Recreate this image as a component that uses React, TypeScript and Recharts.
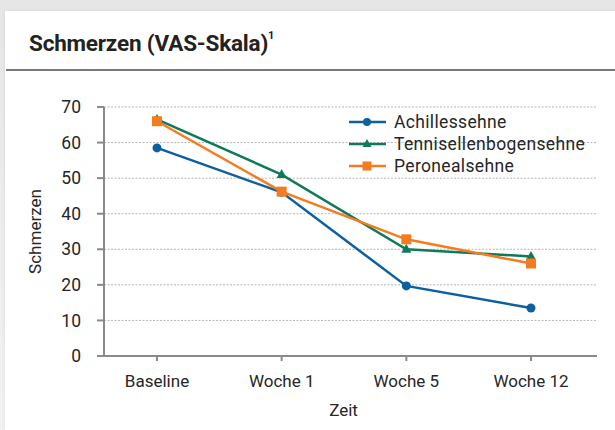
import React from 'react'
import { LineChart, Line, XAxis, YAxis, CartesianGrid, Legend, Label } from 'recharts'

// Schmerzen (VAS-Skala) über die Zeit je Sehne
const zeitpunkte = ['Baseline', 'Woche 1', 'Woche 5', 'Woche 12']
const achillessehne = [58.5, 46, 19.7, 13.5]
const tennisellenbogensehne = [66.5, 51, 30, 28]
const peronealsehne = [66, 46.2, 32.8, 26]
const yTicks = [0, 10, 20, 30, 40, 50, 60, 70]
const legendOrder = ['achilles', 'tennis', 'peroneal']

const data = zeitpunkte.map((zeit, i) => ({
  zeit,
  achilles: achillessehne[i],
  tennis: tennisellenbogensehne[i],
  peroneal: peronealsehne[i],
}))

const BLAU = '#0d5f9f'
const GRUEN = '#0f7a5b'
const ORANGE = '#f47c20'
const TEXT = '#262626'
const FONT = 'Roboto, "Noto Sans", sans-serif'

const CircleDot = (props: any) => {
  const { cx, cy } = props
  return <circle cx={cx} cy={cy} r={4.5} fill={BLAU} />
}

const TriangleDot = (props: any) => {
  const { cx, cy } = props
  return <path d={`M${cx},${cy - 5.5} L${cx + 5},${cy + 3.5} L${cx - 5},${cy + 3.5} Z`} fill={GRUEN} />
}

const SquareDot = (props: any) => {
  const { cx, cy } = props
  return <rect x={cx - 5} y={cy - 5} width={10} height={10} fill={ORANGE} />
}

const markerFor = (key: string, color: string) => {
  if (key === 'achilles') return <circle cx={19} cy={11} r={4} fill={color} />
  if (key === 'tennis') return <path d="M19,6 L23.5,14 L14.5,14 Z" fill={color} />
  return <rect x={14.5} y={6.5} width={9} height={9} fill={color} />
}

// Legende wie im Original: Linie mit Marker, Text daneben
const LegendContent = (props: any) => {
  const items = [...(props.payload || [])].sort(
    (a: any, b: any) => legendOrder.indexOf(a.dataKey) - legendOrder.indexOf(b.dataKey)
  )
  return (
    <div style={{ fontFamily: FONT }}>
      {items.map((entry: any) => (
        <div key={entry.dataKey} style={{ display: 'flex', alignItems: 'center', height: 22 }}>
          <svg width={40} height={22} style={{ marginRight: 6 }}>
            <line x1={1} y1={11} x2={38} y2={11} stroke={entry.color} strokeWidth={2.5} />
            {markerFor(entry.dataKey, entry.color)}
          </svg>
          <span style={{ fontSize: 17.5, color: TEXT, letterSpacing: 0.35, whiteSpace: 'nowrap' }}>{entry.value}</span>
        </div>
      ))}
    </div>
  )
}

export default function App() {
  return (
    <div
      style={{
        position: 'fixed',
        left: 0,
        top: 0,
        width: 615,
        height: 430,
        background: 'linear-gradient(#e6e6e6, #f2f2f2)',
        overflow: 'hidden',
        fontFamily: FONT,
      }}
    >
      <div
        style={{
          position: 'absolute',
          left: 5,
          top: 11,
          right: 0,
          bottom: 0,
          background: '#fff',
          boxShadow: '0 0 4px rgba(0,0,0,0.08)',
        }}
      />
      <div
        style={{
          position: 'absolute',
          left: 29,
          top: 30,
          fontSize: 22.5,
          fontWeight: 700,
          color: '#222',
          letterSpacing: -0.2,
        }}
      >
        Schmerzen (VAS-Skala)<sup style={{ fontSize: 11, verticalAlign: 'top', position: 'relative', top: -1 }}>1</sup>
      </div>
      <div style={{ position: 'absolute', left: 6, right: 0, top: 69, height: 2, background: '#7a7a7a' }} />

      <LineChart
        width={615}
        height={430}
        data={data}
        margin={{ top: 107, right: 18, bottom: 10, left: 34 }}
        style={{ position: 'absolute', left: 0, top: 0 }}
      >
        <CartesianGrid vertical={false} stroke="#b5b5b5" strokeDasharray="2 1.5" />
        <XAxis
          dataKey="zeit"
          height={64}
          interval={0}
          padding={{ left: 53, right: 66 }}
          axisLine={{ stroke: '#8a8a8a', strokeWidth: 2 }}
          tickLine={{ stroke: '#8a8a8a', strokeWidth: 2 }}
          tickSize={5}
          tickMargin={14}
          tick={{ fontSize: 17, fill: TEXT, fontFamily: FONT }}
        >
          <Label value="Zeit" position="insideBottom" offset={4} dx={-7} style={{ fontSize: 17, fill: TEXT, fontFamily: FONT }} />
        </XAxis>
        <YAxis
          domain={[0, 70]}
          ticks={yTicks}
          width={70}
          interval={0}
          axisLine={{ stroke: '#8a8a8a', strokeWidth: 2 }}
          tickLine={{ stroke: '#8a8a8a', strokeWidth: 2 }}
          tickSize={7}
          tickMargin={16}
          tick={{ fontSize: 17.5, fill: TEXT, fontFamily: FONT }}
        >
          <Label
            value="Schmerzen"
            angle={-90}
            position="insideLeft"
            offset={1}
            style={{ fontSize: 17, fill: TEXT, fontFamily: FONT, textAnchor: 'middle' }}
          />
        </YAxis>
        <Legend
          layout="horizontal"
          verticalAlign="middle"
          align="center"
          content={<LegendContent />}
          wrapperStyle={{ left: 348, top: 111, width: 265 }}
        />
        <Line
          name="Achillessehne"
          dataKey="achilles"
          stroke={BLAU}
          strokeWidth={2.5}
          dot={<CircleDot />}
          activeDot={false}
          isAnimationActive={false}
        />
        <Line
          name="Tennisellenbogensehne"
          dataKey="tennis"
          stroke={GRUEN}
          strokeWidth={2.5}
          dot={<TriangleDot />}
          activeDot={false}
          isAnimationActive={false}
        />
        <Line
          name="Peronealsehne"
          dataKey="peroneal"
          stroke={ORANGE}
          strokeWidth={2.5}
          dot={<SquareDot />}
          activeDot={false}
          isAnimationActive={false}
        />
      </LineChart>
    </div>
  )
}
